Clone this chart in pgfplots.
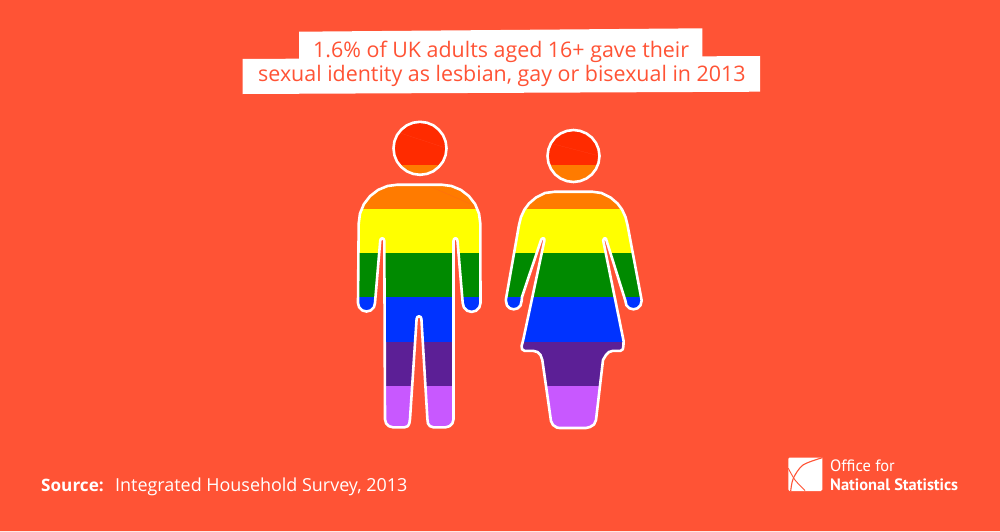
\documentclass[border=0pt]{standalone}
\usepackage{pgfplots}
\usepackage{fontspec}
\setmainfont{Open Sans}
\newfontfamily\logofont{PT Sans}
\pgfplotsset{compat=1.18}
\definecolor{bg}{HTML}{FF5335}
\definecolor{bred}{HTML}{FF2B00}
\definecolor{borange}{HTML}{FF7B00}
\definecolor{byellow}{HTML}{FFFF00}
\definecolor{bgreen}{HTML}{008A00}
\definecolor{bblue}{HTML}{0033FF}
\definecolor{bpurple}{HTML}{5C1F96}
\definecolor{blilac}{HTML}{C858FF}

% outlines in picture pixels (y runs down)
\def\canvas{(0,0) (1000,0) (1000,531) (0,531) (0,0)}
\def\manhead{(446.5,148.3) (445.6,155.2) (443,161.6) (438.7,167) (433.3,171.3) (426.9,173.9) (420,174.8) (413.1,173.9) (406.8,171.3) (401.3,167) (397,161.6) (394.4,155.2) (393.5,148.3) (394.4,141.4) (397,135.1) (401.3,129.6) (406.8,125.3) (413.1,122.7) (420,121.8) (426.9,122.7) (433.3,125.3) (438.7,129.6) (443,135.1) (445.6,141.4) (446.5,148.3)}
\def\womanhead{(599.5,156) (598.6,162.7) (596,169) (591.9,174.4) (586.5,178.5) (580.2,181.1) (573.5,182) (566.8,181.1) (560.5,178.5) (555.1,174.4) (551,169) (548.4,162.7) (547.5,156) (548.4,149.3) (551,143) (555.1,137.6) (560.5,133.5) (566.8,130.9) (573.5,130) (580.2,130.9) (586.5,133.5) (591.9,137.6) (596,143) (598.6,149.3) (599.5,156)}
\def\manbody{(358.7,223.5) (360,213.5) (363.9,204.1) (370.1,196.1) (378.1,189.9) (387.5,186) (397.5,184.7)
 (441.5,184.7) (451.5,186) (460.9,189.9) (468.9,196.1) (475.1,204.1) (479,213.5) (480.3,223.5)
 (480.5,303) (479.3,307.45) (476.05,310.7) (471.6,311.9) (467.15,310.7) (463.9,307.45) (462.7,303)
 (457.5,241) (456.9,239) (455.5,238.2) (454.1,239) (453.5,241)
 (453.5,419.3) (452.4,423.3) (449.5,426.2) (445.5,427.3) (433.5,427.3) (430,426.2) (428,423.5) (427.4,419)
 (421.4,319) (420.7,317) (419,316.3) (417.3,317) (416.6,319)
 (410,419) (409.3,423.5) (407.8,426.2) (404.5,427.3) (393,427.3) (389,426.2) (386.1,423.3) (385,419.3)
 (384.3,241) (383.6,239) (382.2,238.2) (380.8,239) (380.2,241)
 (375,303) (373.9,307.25) (370.75,310.4) (366.5,311.5) (362.25,310.4) (359.1,307.25) (358,303) (358.7,223.5)}
\def\womanbody{(519,225) (521,217) (524.5,209.5) (529,203.5) (536,197.5) (545,193) (555,191.7)
 (592,191.7) (601.5,193) (610.5,197.5) (617.5,203.5) (622,209.5) (625.5,217) (627.5,225)
 (641.7,300.5) (640.5,305.3) (637.5,308.3) (633.5,309.3) (629.4,308.3) (626.4,305.3) (625.3,300.5)
 (606.5,240.5) (606,238.8) (604.8,238.2) (604,238.8) (603.2,240.5)
 (623.6,341) (623.4,346) (622.8,349.3) (620.5,350.8) (613,350.8) (609,352) (606,355) (603,360)
 (596,420) (594,424.5) (590,427) (586,428) (560,428) (557,427.6) (553,425) (551,421)
 (542.3,360) (540.5,355) (537.5,352) (533,350.8) (524.5,350.8) (522.1,349.3) (521.6,346) (523.2,340)
 (544.4,240.5) (544.2,238.8) (543,238.2) (541.8,238.8) (540.9,240.5)
 (522,297) (521.7,300.5) (520.6,305.3) (517.7,308.3) (513.7,309.3) (509.7,308.3) (506.9,305.3) (505.8,300) (519,225)}

\begin{document}
\begin{tikzpicture}
\begin{axis}[
    scale only axis, width=1000bp, height=531bp,
    xmin=0, xmax=1000, ymin=0, ymax=531,
    y dir=reverse,
    hide axis,
    outline/.style={draw=white, line width=2.6bp, line join=round},
    band/.style={fill=#1, draw=none, forget plot},
    mask/.style={fill=bg, draw=none, even odd rule, forget plot},
]
\addplot[band=bg] coordinates {(0,0) (1000,0) (1000,531) (0,531)} --cycle;

% rainbow bands, the same heights for both figures
\addplot[band=bred] coordinates {(350,110) (655,110) (655,165) (350,165)} --cycle;
\addplot[band=borange] coordinates {(350,165) (655,165) (655,209) (350,209)} --cycle;
\addplot[band=byellow] coordinates {(350,209) (655,209) (655,253) (350,253)} --cycle;
\addplot[band=bgreen] coordinates {(350,253) (655,253) (655,297.4) (350,297.4)} --cycle;
\addplot[band=bblue] coordinates {(350,297.4) (655,297.4) (655,341.5) (350,341.5)} --cycle;
\addplot[band=bpurple] coordinates {(350,341.5) (655,341.5) (655,385.7) (350,385.7)} --cycle;
\addplot[band=blilac] coordinates {(350,385.7) (655,385.7) (655,435) (350,435)} --cycle;

% everything outside the figures goes back to the background colour
\edef\masktemp{\noexpand\addplot[mask] coordinates {\canvas\space \manhead\space (0,0) \womanhead\space (0,0) \manbody\space (0,0) \womanbody\space (0,0)};}
\masktemp

\edef\tmp{\noexpand\addplot[outline, forget plot] coordinates {\manhead};}\tmp
\edef\tmp{\noexpand\addplot[outline, forget plot] coordinates {\womanhead};}\tmp
\edef\tmp{\noexpand\addplot[outline, forget plot] coordinates {\manbody};}\tmp
\edef\tmp{\noexpand\addplot[outline, forget plot] coordinates {\womanbody};}\tmp

% title boxes
\addplot[band=white] coordinates {(299,31.7) (702.3,28.3) (702.3,62) (299,62)} --cycle;
\addplot[band=white] coordinates {(242.7,59) (760,56) (760,91.7) (242.7,94)} --cycle;
\node[anchor=base west, inner sep=0pt, text=bg, font=\fontsize{21.5}{21.5}\selectfont] at (axis cs:313,57.3) {1.6\% of UK adults aged 16+ gave their};
\node[anchor=base west, inner sep=0pt, text=bg, font=\fontsize{21.5}{21.5}\selectfont] at (axis cs:258,81.7) {sexual identity as lesbian, gay or bisexual in 2013};

% source
\node[anchor=base west, inner sep=0pt, text=white, font=\fontsize{17.2}{17.2}\selectfont\bfseries] at (axis cs:41,491) {Source:};
\node[anchor=base west, inner sep=0pt, text=white, font=\fontsize{18}{18}\selectfont] at (axis cs:115,491) {Integrated Household Survey, 2013};

% logo
\addplot[band=white] coordinates {(789.5,457.5) (822.3,457.5) (822.3,489.5) (821,491) (789.5,491) (788.3,489.5) (788.3,458.8)} --cycle;
\addplot[smooth, draw=bg, line width=1.1bp, forget plot] coordinates {(822.3,457.7) (803,465) (793.3,478.3) (790.7,491)};
\addplot[smooth, draw=bg, line width=0.9bp, forget plot] coordinates {(788.3,468.3) (795,480) (805,490.5)};
\node[anchor=base west, inner sep=0pt, text=white, font=\logofont\fontsize{16.5}{16.5}\selectfont] at (axis cs:830,471.7) {Office for};
\node[anchor=base west, inner sep=0pt, text=white, font=\logofont\fontsize{16.5}{16.5}\selectfont\bfseries] at (axis cs:830,490) {National Statistics};
\end{axis}
\end{tikzpicture}
\end{document}
